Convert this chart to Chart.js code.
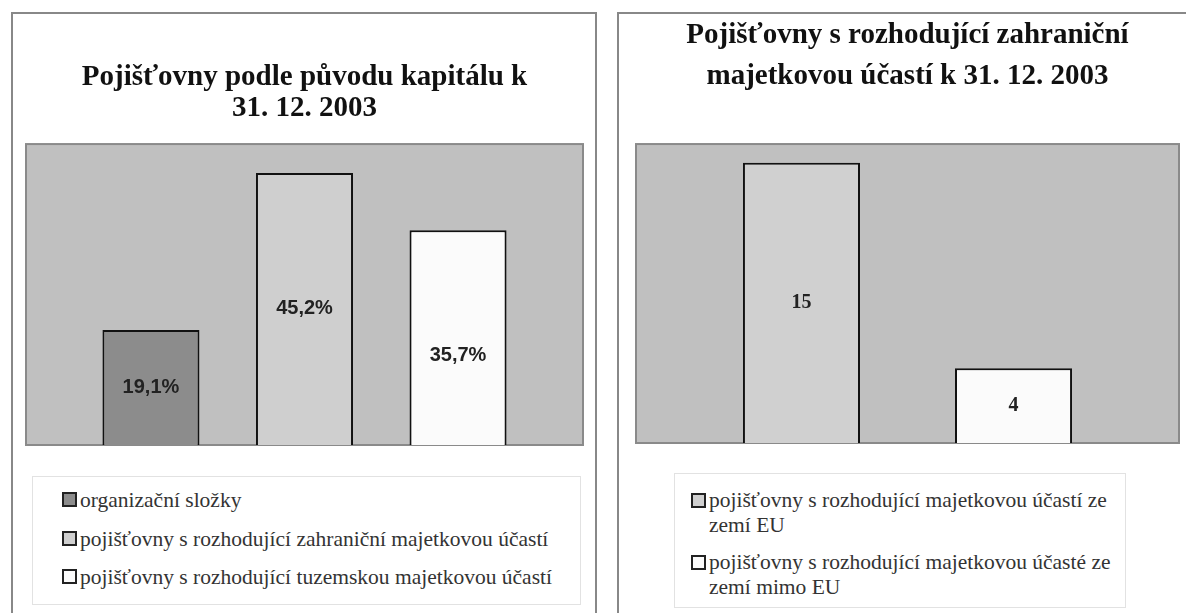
<!DOCTYPE html>
<html>
<head>
<meta charset="utf-8">
<script src="https://cdn.jsdelivr.net/npm/chart.js@4.4.1/dist/chart.umd.min.js"></script>
<style>
  body { margin: 0; background: #fff; width: 1186px; height: 613px; overflow: hidden; position: relative; }
  .panel { position: absolute; top: 12px; height: 640px; border: 2px solid #888; box-sizing: border-box; }
  .wrap { position: absolute; top: 14px; height: 440px; }
  .legend { position: absolute; border: 1px solid #e2e2e2; box-sizing: border-box;
            font-family: "Liberation Serif", "Times New Roman", serif; font-size: 21.5px; color: #333; }
  .item { display: flex; align-items: flex-start; }
  .sq { width: 15px; height: 15px; border: 2px solid #222; box-sizing: border-box; margin-right: 3px; flex: none; }
</style>
</head>
<body>
<div class="panel" style="left:11px; width:586px;"></div>
<div class="panel" style="left:617px; width:600px;"></div>

<div class="wrap" style="left:13px; width:581px;"><canvas id="leftChart"></canvas></div>
<div class="wrap" style="left:619px; width:567px;"><canvas id="rightChart"></canvas></div>

<div id="leftLegend" class="legend" style="left:32px; top:476px; width:549px; height:129px; padding:4px 0 0 29px;"></div>
<div id="rightLegend" class="legend" style="left:674px; top:473px; width:452px; height:135px; padding:14px 0 0 16px;"></div>

<script>
// ---- data ----
const leftTitle = ['Pojišťovny podle původu kapitálu k', '31. 12. 2003'];
const leftSeries = [
    'organizační složky',
    'pojišťovny s rozhodující zahraniční majetkovou účastí',
    'pojišťovny s rozhodující tuzemskou majetkovou účastí'
];
const leftValues = [19.1, 45.2, 35.7];

const rightTitle = ['Pojišťovny s rozhodující zahraniční', 'majetkovou účastí k 31. 12. 2003'];
const rightSeries = [
    'pojišťovny s rozhodující majetkovou účastí ze zemí EU',
    'pojišťovny s rozhodující majetkovou účasté ze zemí mimo EU'
];
const rightValues = [15, 4];

const leftColors = ['#8c8c8c', '#cfcfcf', '#fbfbfb'];
const rightColors = ['#d0d0d0', '#fbfbfb'];

// grey plot area with border
const plotArea = {
    id: 'plotArea',
    beforeDatasetsDraw(chart) {
        const a = chart.chartArea, c = chart.ctx;
        c.save();
        c.fillStyle = '#c0c0c0';
        c.fillRect(a.left, a.top, a.right - a.left, a.bottom - a.top);
        c.strokeStyle = '#8a8a8a';
        c.lineWidth = 2;
        c.strokeRect(a.left, a.top, a.right - a.left, a.bottom - a.top);
        c.restore();
    }
};

// value labels in the middle of each bar
const barLabels = {
    id: 'barLabels',
    afterDatasetsDraw(chart, args, opts) {
        const c = chart.ctx;
        c.save();
        c.font = opts.font;
        c.fillStyle = '#222';
        c.textAlign = 'center';
        c.textBaseline = 'middle';
        chart.data.datasets.forEach((ds, i) => {
            const bar = chart.getDatasetMeta(i).data[0];
            const shift = (opts.shift && opts.shift[i]) || 0;
            c.fillText(opts.format(ds.data[0]), bar.x, (bar.y + bar.base) / 2 + shift);
        });
        c.restore();
    }
};

function makeChart(id, title, names, values, colors, yMax, cat, bar, pad, titleLine, titlePad, labelOpts) {
    return new Chart(document.getElementById(id), {
        type: 'bar',
        data: {
            labels: [''],
            datasets: names.map((n, i) => ({
                label: n,
                data: [values[i]],
                backgroundColor: colors[i],
                borderColor: '#111',
                borderWidth: 2,
                categoryPercentage: cat,
                barPercentage: bar
            }))
        },
        options: {
            responsive: true,
            maintainAspectRatio: false,
            animation: false,
            layout: { padding: pad },
            scales: {
                x: { display: false },
                y: { display: false, min: 0, max: yMax }
            },
            plugins: {
                legend: { display: false },
                tooltip: { enabled: false },
                title: {
                    display: true,
                    text: title,
                    color: '#111',
                    font: { family: '"Liberation Serif", "Times New Roman", serif', size: 29, weight: 'bold', lineHeight: titleLine },
                    padding: titlePad
                },
                barLabels: labelOpts
            }
        },
        plugins: [plotArea, barLabels]
    });
}

makeChart('leftChart', leftTitle, leftSeries, leftValues, leftColors, 50, 0.827, 0.632,
    { left: 13, right: 11, top: 0, bottom: 9 }, 1.07, { top: 48, bottom: 20 },
    { font: 'bold 20px "Liberation Sans", Arial, sans-serif',
      format: v => v.toFixed(1).replace('.', ',') + '%', shift: [0, 0, 18] });

makeChart('rightChart', rightTitle, rightSeries, rightValues, rightColors, 16, 0.781, 0.552,
    { left: 17, right: 7, top: 2, bottom: 11 }, 1.38, { top: 0, bottom: 48 },
    { font: 'bold 20px "Liberation Serif", "Times New Roman", serif', format: v => String(v) });

// html legends
function buildLegend(id, names, colors, itemStyle, textWidth) {
    const box = document.getElementById(id);
    names.forEach((n, i) => {
        const it = document.createElement('div');
        it.className = 'item';
        it.style.cssText = itemStyle;
        const sq = document.createElement('span');
        sq.className = 'sq';
        sq.style.background = colors[i];
        sq.style.marginTop = '5px';
        const tx = document.createElement('span');
        tx.textContent = n;
        if (textWidth) tx.style.width = textWidth + 'px';
        it.appendChild(sq);
        it.appendChild(tx);
        box.appendChild(it);
    });
}
buildLegend('leftLegend', leftSeries, leftColors, 'height:38.5px; line-height:26px; padding-top:6px; box-sizing:border-box;');
buildLegend('rightLegend', rightSeries, rightColors, 'line-height:25px; margin-bottom:12px;', 405);
</script>
</body>
</html>
